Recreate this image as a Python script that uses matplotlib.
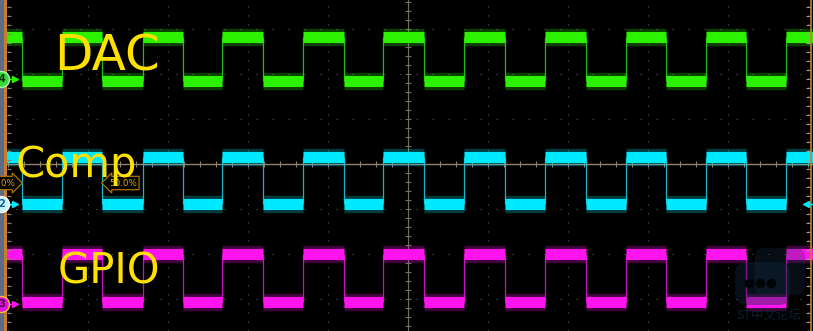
import numpy as np
import matplotlib
matplotlib.use('Agg')
import matplotlib.pyplot as plt
from matplotlib.patches import FancyBboxPatch

# ── datos de la captura (divisiones del osciloscopio) ──────────────
# flancos comunes a los tres canales; antes del primero la señal está en alto
edge_times = [-4.83, -4.32, -3.82, -3.31, -2.81, -2.32, -1.81, -1.31, -0.80, -0.31,
              0.20, 0.70, 1.21, 1.71, 2.22, 2.72, 3.22, 3.72, 4.23, 4.73]
channel_names = ['DAC', 'Comp', 'GPIO']
channel_numbers = ['4', '2', '3']
high_levels = [2.82, 0.16, -2.00]
low_levels = [1.84, -0.89, -3.07]
marker_levels = [1.89, -0.89, -3.11]
trigger_text = '50.0%'
watermark_text = 'ST中文论坛'

# ── geometría de pantalla ──────────────────────────────────────────
W, H = 813, 331
X0, Y0 = 408, 164          # centro de la retícula en píxeles
X_DIV, Y_DIV = 80.0, 45.0  # píxeles por división


def px(xp, yp):
    return (xp - X0) / X_DIV, (Y0 - yp) / Y_DIV


trace_colors = ['#2cf200', '#00eaff', '#ff14ee']
edge_colors = ['#1fb81f', '#19b4c6', '#c412bc']
circle_fill = ['#38d838', '#c8f4ff', '#e010e0']
circle_edge = ['#a8ffa8', '#ffffff', '#ffc020']
num_colors = ['#063006', '#1060a0', '#400040']
yellow = '#ffe100'

fig = plt.figure(figsize=(W / 100, H / 100), dpi=100, facecolor='black')
ax = fig.add_axes([0, 0, 1, 1])
ax.set_facecolor('black')
x_left, y_top = px(0, 0)
x_right, y_bot = px(W, H)
ax.set_xlim(x_left, x_right)
ax.set_ylim(y_bot, y_top)
ax.axis('off')

# retícula punteada
grid_c = '#5c5c5c'
for k in range(-5, 6):
    if k != 0:
        ax.plot([k, k], [y_bot, y_top], ls=(0, (1, 7.1)), lw=0.8, color=grid_c, zorder=1)
for k in range(-4, 5):
    if k != 0:
        ax.plot([x_left, x_right], [k, k], ls=(0, (1, 13.4)), lw=0.8, color=grid_c, zorder=1)

# cruz central con marcas
cross_c = '#767060'
ax.axvline(0, color=cross_c, lw=0.8, zorder=1.5)
ax.axhline(0, color='#8e8270', lw=1.0, zorder=1.5)
yt = np.arange(-3.6, 3.7, 0.2)
ax.plot(np.zeros_like(yt), yt, ls='none', marker='_', ms=5, mew=0.8, color=cross_c, zorder=1.6)
xt = np.arange(-5.0, 5.1, 0.2)
ax.plot(xt, np.zeros_like(xt), ls='none', marker='|', ms=5, mew=0.8, color='#8e8270', zorder=1.6)

# trazas
bounds = [x_left] + edge_times + [x_right]
starts, ends = bounds[:-1], bounds[1:]
for hi, lo, col, ecol in zip(high_levels, low_levels, trace_colors, edge_colors):
    lv = [hi if i % 2 == 0 else lo for i in range(len(starts))]
    ax.vlines(edge_times, lo, hi, colors=ecol, linewidth=0.9, zorder=2)
    ax.hlines(lv, starts, ends, colors=col, linewidth=12.5, alpha=0.25, capstyle='butt', zorder=3)
    ax.hlines(lv, starts, ends, colors=col, linewidth=8.0, capstyle='butt', zorder=4)

# bordes laterales
ax.axvspan(*[px(0, 0)[0], px(4, 0)[0]], color='#5e6b86', lw=0, zorder=6)
ax.axvspan(*[px(4, 0)[0], px(6.8, 0)[0]], color='#c57f2c', lw=0, zorder=6)
ax.axvline(px(811, 0)[0], color='#c57f2c', lw=1.2, zorder=6)
ty = np.arange(y_bot, y_top, 0.2)
ax.plot(np.full_like(ty, px(9, 0)[0]), ty, ls='none', marker='_', ms=3, mew=0.8, color='#888070', zorder=6)
ax.plot(np.full_like(ty, px(808, 0)[0]), ty, ls='none', marker='_', ms=3, mew=0.8, color='#a89c88', zorder=6)

# marcadores de canal
for lvl, num, fc, ec, tc, col in zip(marker_levels, channel_numbers, circle_fill,
                                      circle_edge, num_colors, trace_colors):
    ax.plot([px(8, 0)[0], px(14, 0)[0]], [lvl, lvl], color=col, lw=1.0, zorder=7)
    ax.plot(px(15, 0)[0], lvl, marker='>', ms=5, color=col, zorder=7)
    ax.plot(px(1, 0)[0], lvl, marker='o', ms=11.5, mfc=fc, mec=ec, mew=1.0, zorder=8)
    ax.text(px(2, 0)[0], lvl, num, fontsize=7, color=tc, ha='center', va='center',
            fontweight='bold', zorder=9)
ax.plot(px(806, 0)[0], marker_levels[1], marker='<', ms=5, color=trace_colors[1], zorder=7)
ax.plot([px(806, 0)[0], px(813, 0)[0]], [marker_levels[1]] * 2, color=trace_colors[1], lw=1.0, zorder=7)

# etiquetas de nivel de disparo
tx, tyy = px(109, 183)
ax.text(tx, tyy, trigger_text, fontsize=6.3, color='#d9a200', ha='left', va='center', zorder=9,
        bbox=dict(boxstyle='larrow,pad=0.25', fc='black', ec='#a87500', lw=0.9))
tx, tyy = px(15, 183)
ax.text(tx, tyy, trigger_text, fontsize=6.3, color='#d9a200', ha='right', va='center', zorder=9,
        bbox=dict(boxstyle='rarrow,pad=0.25', fc='black', ec='#a87500', lw=0.9))

# marca de agua
asp = X_DIV / Y_DIV
bx0, by0 = px(755, 295)
bx1, by1 = px(805, 248)
ax.add_patch(FancyBboxPatch((bx0, by0), bx1 - bx0, by1 - by0,
                            boxstyle='round,pad=0,rounding_size=0.12', mutation_aspect=asp,
                            fc='#163049', ec='none', alpha=0.28, zorder=10))
bx0, by0 = px(735, 305)
bx1, by1 = px(790, 262)
ax.add_patch(FancyBboxPatch((bx0, by0), bx1 - bx0, by1 - by0,
                            boxstyle='round,pad=0,rounding_size=0.14', mutation_aspect=asp,
                            fc='#122a40', ec='none', alpha=0.4, zorder=10))
for xd in [749, 760, 771]:
    ax.plot(*px(xd, 283), marker='o', ms=6, color='#020508', zorder=11)
ax.text(*px(769, 315), watermark_text, fontsize=9, color='#0e1e2e', ha='center', va='center',
        family=['Noto Sans CJK SC', 'DejaVu Sans'], zorder=11)

# anotaciones a mano
ax.text(*px(107, 70), channel_names[0], fontsize=36, color=yellow, ha='center', va='baseline', zorder=12)
ax.text(*px(76, 177), channel_names[1], fontsize=30, color=yellow, ha='center', va='baseline', zorder=12)
ax.text(*px(109, 283), channel_names[2], fontsize=30, color=yellow, ha='center', va='baseline', zorder=12)

fig.savefig('out.png', dpi=100, facecolor='black')
plt.close(fig)
